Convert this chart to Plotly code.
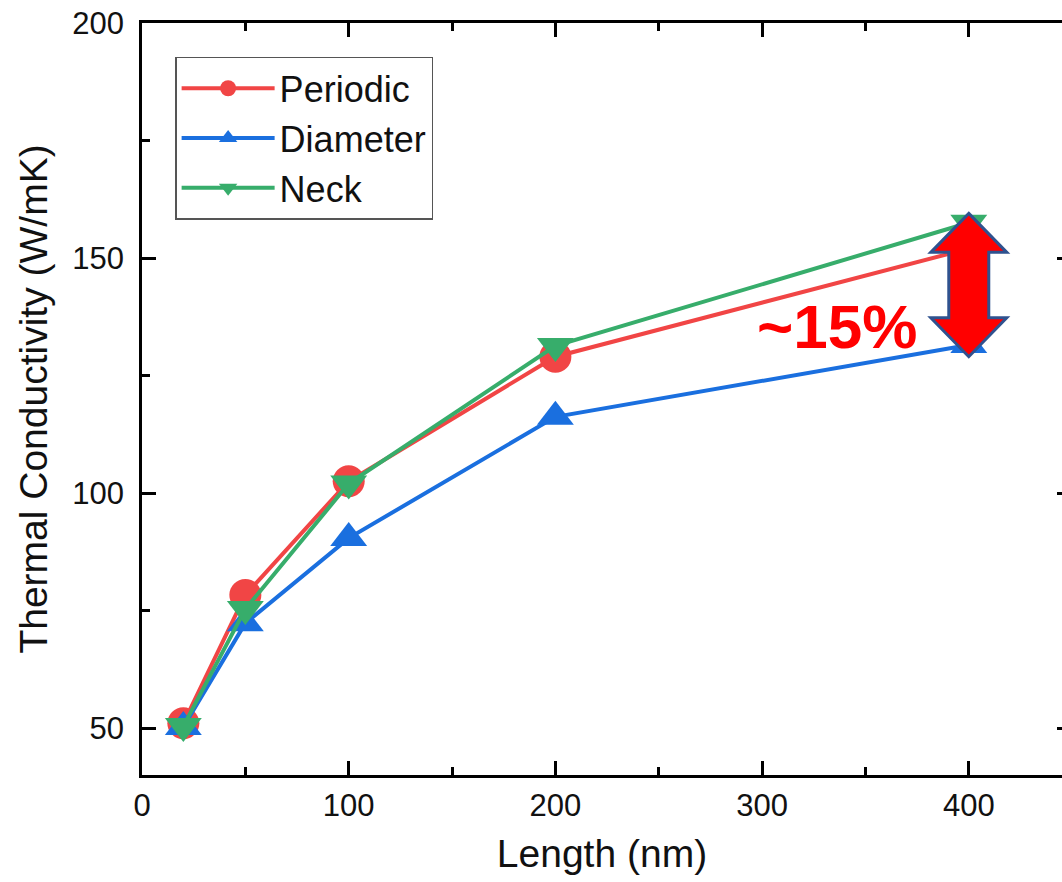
import plotly.graph_objects as go

length_nm = [20, 50, 100, 200, 400]
periodic = [51.0, 78.3, 102.5, 129.0, 152.0]
diameter = [50.2, 72.3, 90.4, 116.2, 131.5]
neck = [50.4, 75.3, 102.0, 131.3, 157.5]

series_names = ["Periodic", "Diameter", "Neck"]
series_values = [periodic, diameter, neck]
series_colors = ["#F14545", "#1A6FDF", "#37AD6B"]
series_symbols = ["circle", "triangle-up", "triangle-down"]

x_ticks = [0, 100, 200, 300, 400]
y_ticks = [50, 100, 150, 200]

FONT = "Liberation Sans, Arial, sans-serif"

fig = go.Figure()
for name, vals, col, sym in zip(series_names, series_values, series_colors, series_symbols):
    fig.add_trace(go.Scatter(
        x=length_nm, y=vals, name=name, mode="lines+markers",
        line=dict(color=col, width=4),
        marker=dict(symbol=sym, size=32, color=col, line=dict(width=0)),
    ))

# invisible trace for right-side tick stubs
fig.add_trace(go.Scatter(x=[length_nm[0]], y=[y_ticks[0]], yaxis="y2", mode="markers",
                         marker=dict(opacity=0), showlegend=False, hoverinfo="skip"))

# double-headed block arrow between Diameter and Neck at the last point
top = neck[-1] + 2.0
bot = diameter[-1] - 2.5
head = 8.3
hw, sw = 38, 20
path = (f"M 0,{top} L {hw},{top-head} L {sw},{top-head} L {sw},{bot+head} "
        f"L {hw},{bot+head} L 0,{bot} L {-hw},{bot+head} L {-sw},{bot+head} "
        f"L {-sw},{top-head} L {-hw},{top-head} Z")
fig.add_shape(type="path", xref="x", yref="y", xsizemode="pixel", xanchor=length_nm[-1],
              path=path, fillcolor="#FF0000", line=dict(color="#2F528F", width=3), layer="above")

pct = round((neck[-1] - diameter[-1]) / neck[-1] * 100 / 5) * 5
fig.add_annotation(x=336, y=135.5, xref="x", yref="y", text=f"<b>~{pct}%</b>",
                   showarrow=False, font=dict(family=FONT, size=62, color="#FF0000"))

fig.update_layout(
    width=1062, height=882,
    margin=dict(l=142, r=0, t=23, b=107, autoexpand=False),
    paper_bgcolor="white", plot_bgcolor="white",
    font=dict(family=FONT, color="#111"),
    showlegend=True,
    legend=dict(x=0.036, y=0.955, xanchor="left", yanchor="top",
                bordercolor="#555", borderwidth=1.5, bgcolor="white",
                font=dict(family=FONT, size=36, color="#111"),
                tracegroupgap=0, itemwidth=93),
    xaxis=dict(range=[0, 445.1], tickvals=x_ticks, ticks="inside", ticklen=14, tickwidth=2.5,
               tickcolor="black", showline=True, linecolor="black", linewidth=2.5,
               mirror="ticks", showgrid=False, zeroline=False, automargin=False,
               ticklabelstandoff=1, ticklabeloverflow="allow",
               tickfont=dict(family=FONT, size=31, color="#111"),
               minor=dict(dtick=50, tick0=0, ticks="inside", ticklen=8, tickwidth=2.5, tickcolor="black", showgrid=False),
               title=dict(text="Length (nm)", font=dict(family=FONT, size=39, color="#111"), standoff=18)),
    yaxis=dict(range=[40, 200], tickvals=y_ticks, ticks="inside", ticklen=14, tickwidth=2.5,
               tickcolor="black", showline=True, linecolor="black", linewidth=2.5,
               mirror=False, showgrid=False, zeroline=False, automargin=False,
               ticklabelstandoff=9, ticklabeloverflow="allow",
               tickfont=dict(family=FONT, size=31, color="#111"),
               minor=dict(dtick=25, tick0=0, ticks="inside", ticklen=8, tickwidth=2.5, tickcolor="black", showgrid=False),
               title=dict(text="Thermal Conductivity (W/mK)", font=dict(family=FONT, size=39, color="#111"), standoff=13)),
    yaxis2=dict(range=[40, 200], tickvals=y_ticks, overlaying="y", side="right", anchor="x",
                ticks="inside", ticklen=5, tickwidth=2.5, tickcolor="black", automargin=False,
                showticklabels=False, showline=False, showgrid=False, zeroline=False),
)

fig.write_html("out.html", config={"displayModeBar": False},
               post_script="document.body.style.margin='0';document.body.style.overflow='hidden';")
